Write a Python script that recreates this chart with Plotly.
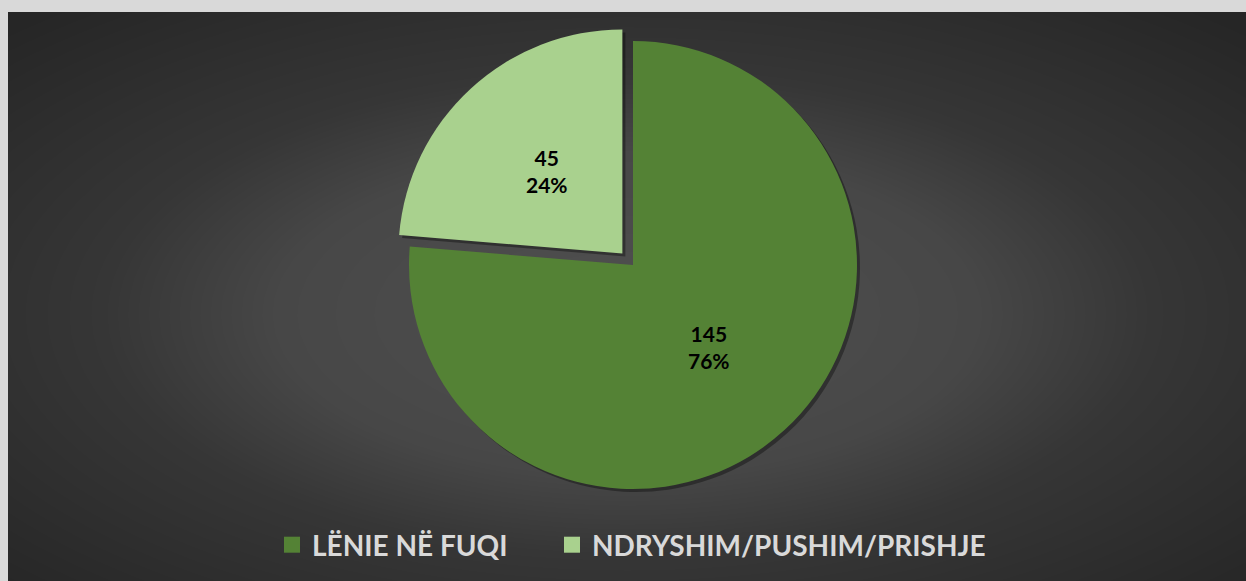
import numpy as np
import plotly.graph_objects as go

labels = ["LËNIE NË FUQI", "NDRYSHIM/PUSHIM/PRISHJE"]
values = [145, 45]
colors = ["#548235", "#A9D18E"]
pulls = [0, 0.07]

W, H = 1246, 581
ml, mt = 8, 12
pw, ph = W - ml, H - mt

# background gradient (style only)
gx = np.linspace(0, 1, 41)
gy = np.linspace(0, 1, 31)
X, Y = np.meshgrid(gx, gy)
Z = np.sqrt(((X - 0.5) / 0.5) ** 2 + ((Y - 0.47) / 0.5) ** 2) / np.sqrt(2)

fig = go.Figure()
fig.add_trace(go.Heatmap(x=gx, y=gy, z=Z, zsmooth="best", showscale=False,
                         colorscale=[[0, "#505050"], [0.4, "#474747"], [0.6, "#363636"], [1, "#262626"]],
                         hoverinfo="skip", showlegend=False, zmin=0, zmax=1))

cxp, cyp = 633, 265   # pie centre (px)
r = 224               # pie radius (px)
half = r * (1 + max(pulls))
xdom_c = (cxp - ml) / pw
ydom_c = (H - cyp) / ph
hy = half / ph
hx = 0.3

# shadow
sdx, sdy = 3 / pw, 3 / ph
fig.add_trace(go.Pie(values=values, labels=labels, pull=pulls, sort=False, direction="clockwise",
                     marker=dict(colors=["rgba(0,0,0,0.35)"] * 2, line=dict(width=0)),
                     textinfo="none", hoverinfo="skip", showlegend=False,
                     domain=dict(x=[xdom_c - hx + sdx, xdom_c + hx + sdx], y=[ydom_c - hy - sdy, ydom_c + hy - sdy])))

fig.add_trace(go.Pie(values=values, labels=labels, pull=pulls, sort=False, direction="clockwise",
                     marker=dict(colors=colors, line=dict(width=0)),
                     textinfo="none", showlegend=False,
                     domain=dict(x=[xdom_c - hx, xdom_c + hx], y=[ydom_c - hy, ydom_c + hy])))

# data labels placed at half radius along each slice's bisector
total = sum(values)
cum = 0
for v, p in zip(values, pulls):
    mid = (cum + v / 2) / total * 2 * np.pi
    cum += v
    dx, dy = np.sin(mid), -np.cos(mid)
    ox, oy = cxp + p * r * dx, cyp + p * r * dy
    lx, ly = ox + 0.5 * r * dx, oy + 0.5 * r * dy
    fig.add_annotation(x=(lx - ml) / pw, y=(H - ly) / ph, xref="paper", yref="paper",
                       text=f"{v}<br>{round(100 * v / total)}%", showarrow=False,
                       font=dict(family="Lato", size=21, color="#000000", weight="bold"),
                       xanchor="center", yanchor="middle")

# legend entries (square swatches)
legend_names = ["legend", "legend2"]
for lab, col, lg in zip(labels, colors, legend_names):
    fig.add_trace(go.Scatter(x=[None], y=[None], mode="markers", name=lab, legend=lg,
                             marker=dict(symbol="square", size=18, color=col, line=dict(width=0))))

legfont = dict(family="Lato", size=28, color="#d9d9d9", weight="bold")
fig.update_layout(
    width=W, height=H,
    margin=dict(l=ml, r=0, t=mt, b=0, pad=0),
    paper_bgcolor="#d9d9d9",
    plot_bgcolor="#262626",
    xaxis=dict(visible=False, range=[0, 1], fixedrange=True),
    yaxis=dict(visible=False, range=[0, 1], fixedrange=True),
    showlegend=True,
    legend=dict(orientation="h", x=(272 - ml) / pw, xanchor="left", y=(H - 545) / ph, yanchor="middle",
                font=legfont, bgcolor="rgba(0,0,0,0)", itemwidth=30),
    legend2=dict(orientation="h", x=(552 - ml) / pw, xanchor="left", y=(H - 545) / ph, yanchor="middle",
                 font=legfont, bgcolor="rgba(0,0,0,0)", itemwidth=30),
)
fig.write_html("out.html", config={"displayModeBar": False},
               post_script="document.body.style.margin='0px';document.body.style.padding='0px';")
